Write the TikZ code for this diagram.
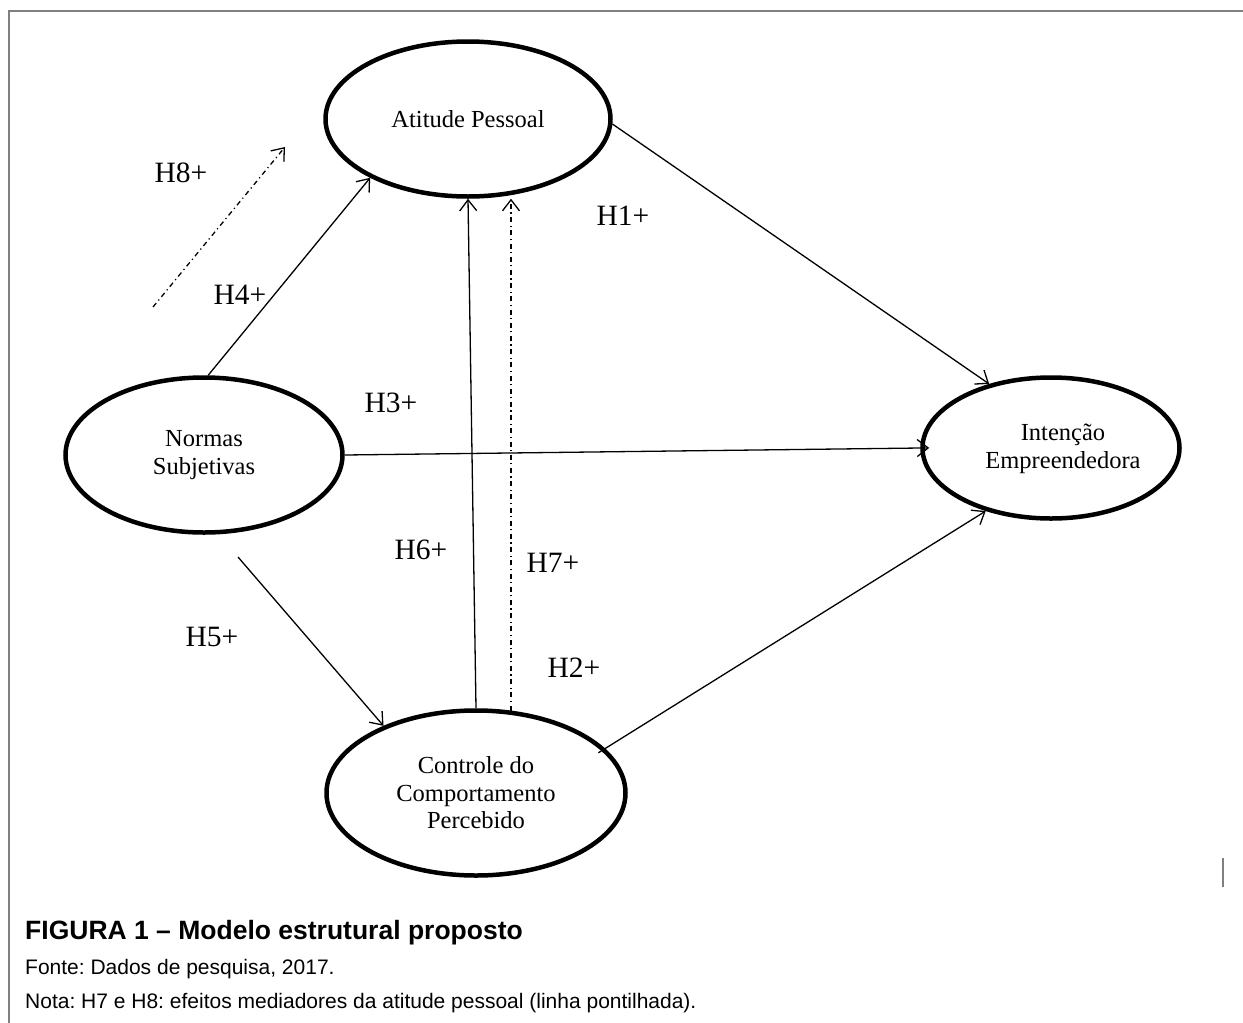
\documentclass[tikz,border=0pt]{standalone}
\usepackage{fontspec}
\setmainfont{Liberation Serif}
\newfontfamily\capfont{Liberation Sans}
\usetikzlibrary{shapes.geometric,arrows.meta}
\frenchspacing
\begin{document}
\begin{tikzpicture}[x=1pt,y=-1pt,
  construct/.style={ellipse, draw, line width=4.5pt, inner sep=0pt, align=center,
    font=\fontsize{24.5}{27.5}\selectfont},
  link/.style={line width=1.3pt, -{Straight Barb[length=11pt,width=17pt]}},
  mediator/.style={link, dash pattern=on 5pt off 3.5pt on 1.2pt off 3.5pt},
  hyp/.style={font=\fontsize{29.5}{32}\selectfont, inner sep=0pt},
  captxt/.style={anchor=base west, inner sep=0pt},
  frameline/.style={draw=black!50, line width=1.6pt}]
\useasboundingbox (0,0) rectangle (1243,1023);
\fill[white] (0,0) rectangle (1243,1023);
\draw[frameline] (9,1023) -- (9,11) -- (1243,11);
\draw[frameline] (1223,858) -- (1223,887);

% constructs
\node[construct, minimum width=285pt, minimum height=155pt] (A) at (468,119) {Atitude Pessoal};
\node[construct, minimum width=277pt, minimum height=155pt] (N) at (204,455) {Normas\\Subjetivas};
\node[construct, minimum width=257pt, minimum height=141pt,
  label={[name=Itxt, align=center, font=\fontsize{24.5}{27.5}\selectfont, xshift=12pt, yshift=-1pt]center:Intenção\\Empreendedora}] (I) at (1051,448) {};
\node[construct, minimum width=299pt, minimum height=165pt] (C) at (476,793) {Controle do\\Comportamento\\Percebido};

% free ends
\coordinate (h5s) at (238,557);
\coordinate (h8s) at (153,307);
\coordinate (h8e) at (285,147);

% connectors
\draw[link] (A.-2) -- (I.134.5);
\draw[link, shorten >=-9pt] (N.0) -- (I.180);
\draw[link, shorten <=-8pt] (C.19) -- (I.224);
\draw[link] (N.87) -- (A.211);
\draw[link] (h5s) -- (C.144);
\draw[link] (C.north) -- (A.south);
\draw[mediator] (C.67) -- (C.67 |- A.south);
\draw[mediator] (h8s) -- (h8e);

% hypothesis labels
\node[hyp] (l8) at (181,173) {H8+};
\node[hyp] (l4) at (240,295) {H4+};
\node[hyp] (l1) at (623,216) {H1+};
\node[hyp] (l3) at (391,403) {H3+};
\node[hyp] (l6) at (421,550) {H6+};
\node[hyp] (l7) at (553,563) {H7+};
\node[hyp] (l5) at (212,637) {H5+};
\node[hyp] (l2) at (574,668) {H2+};

% caption
\node[captxt, font=\capfont\bfseries\fontsize{26.5}{30}\selectfont] (cap) at (25,939) {FIGURA 1 – Modelo estrutural proposto};
\node[captxt, font=\capfont\fontsize{21}{24}\selectfont] (src) at (25,974) {Fonte: Dados de pesquisa, 2017.};
\node[captxt, font=\capfont\fontsize{21}{24}\selectfont] (note) at (25,1008) {Nota: H7 e H8: efeitos mediadores da atitude pessoal (linha pontilhada).};
\end{tikzpicture}
\end{document}
